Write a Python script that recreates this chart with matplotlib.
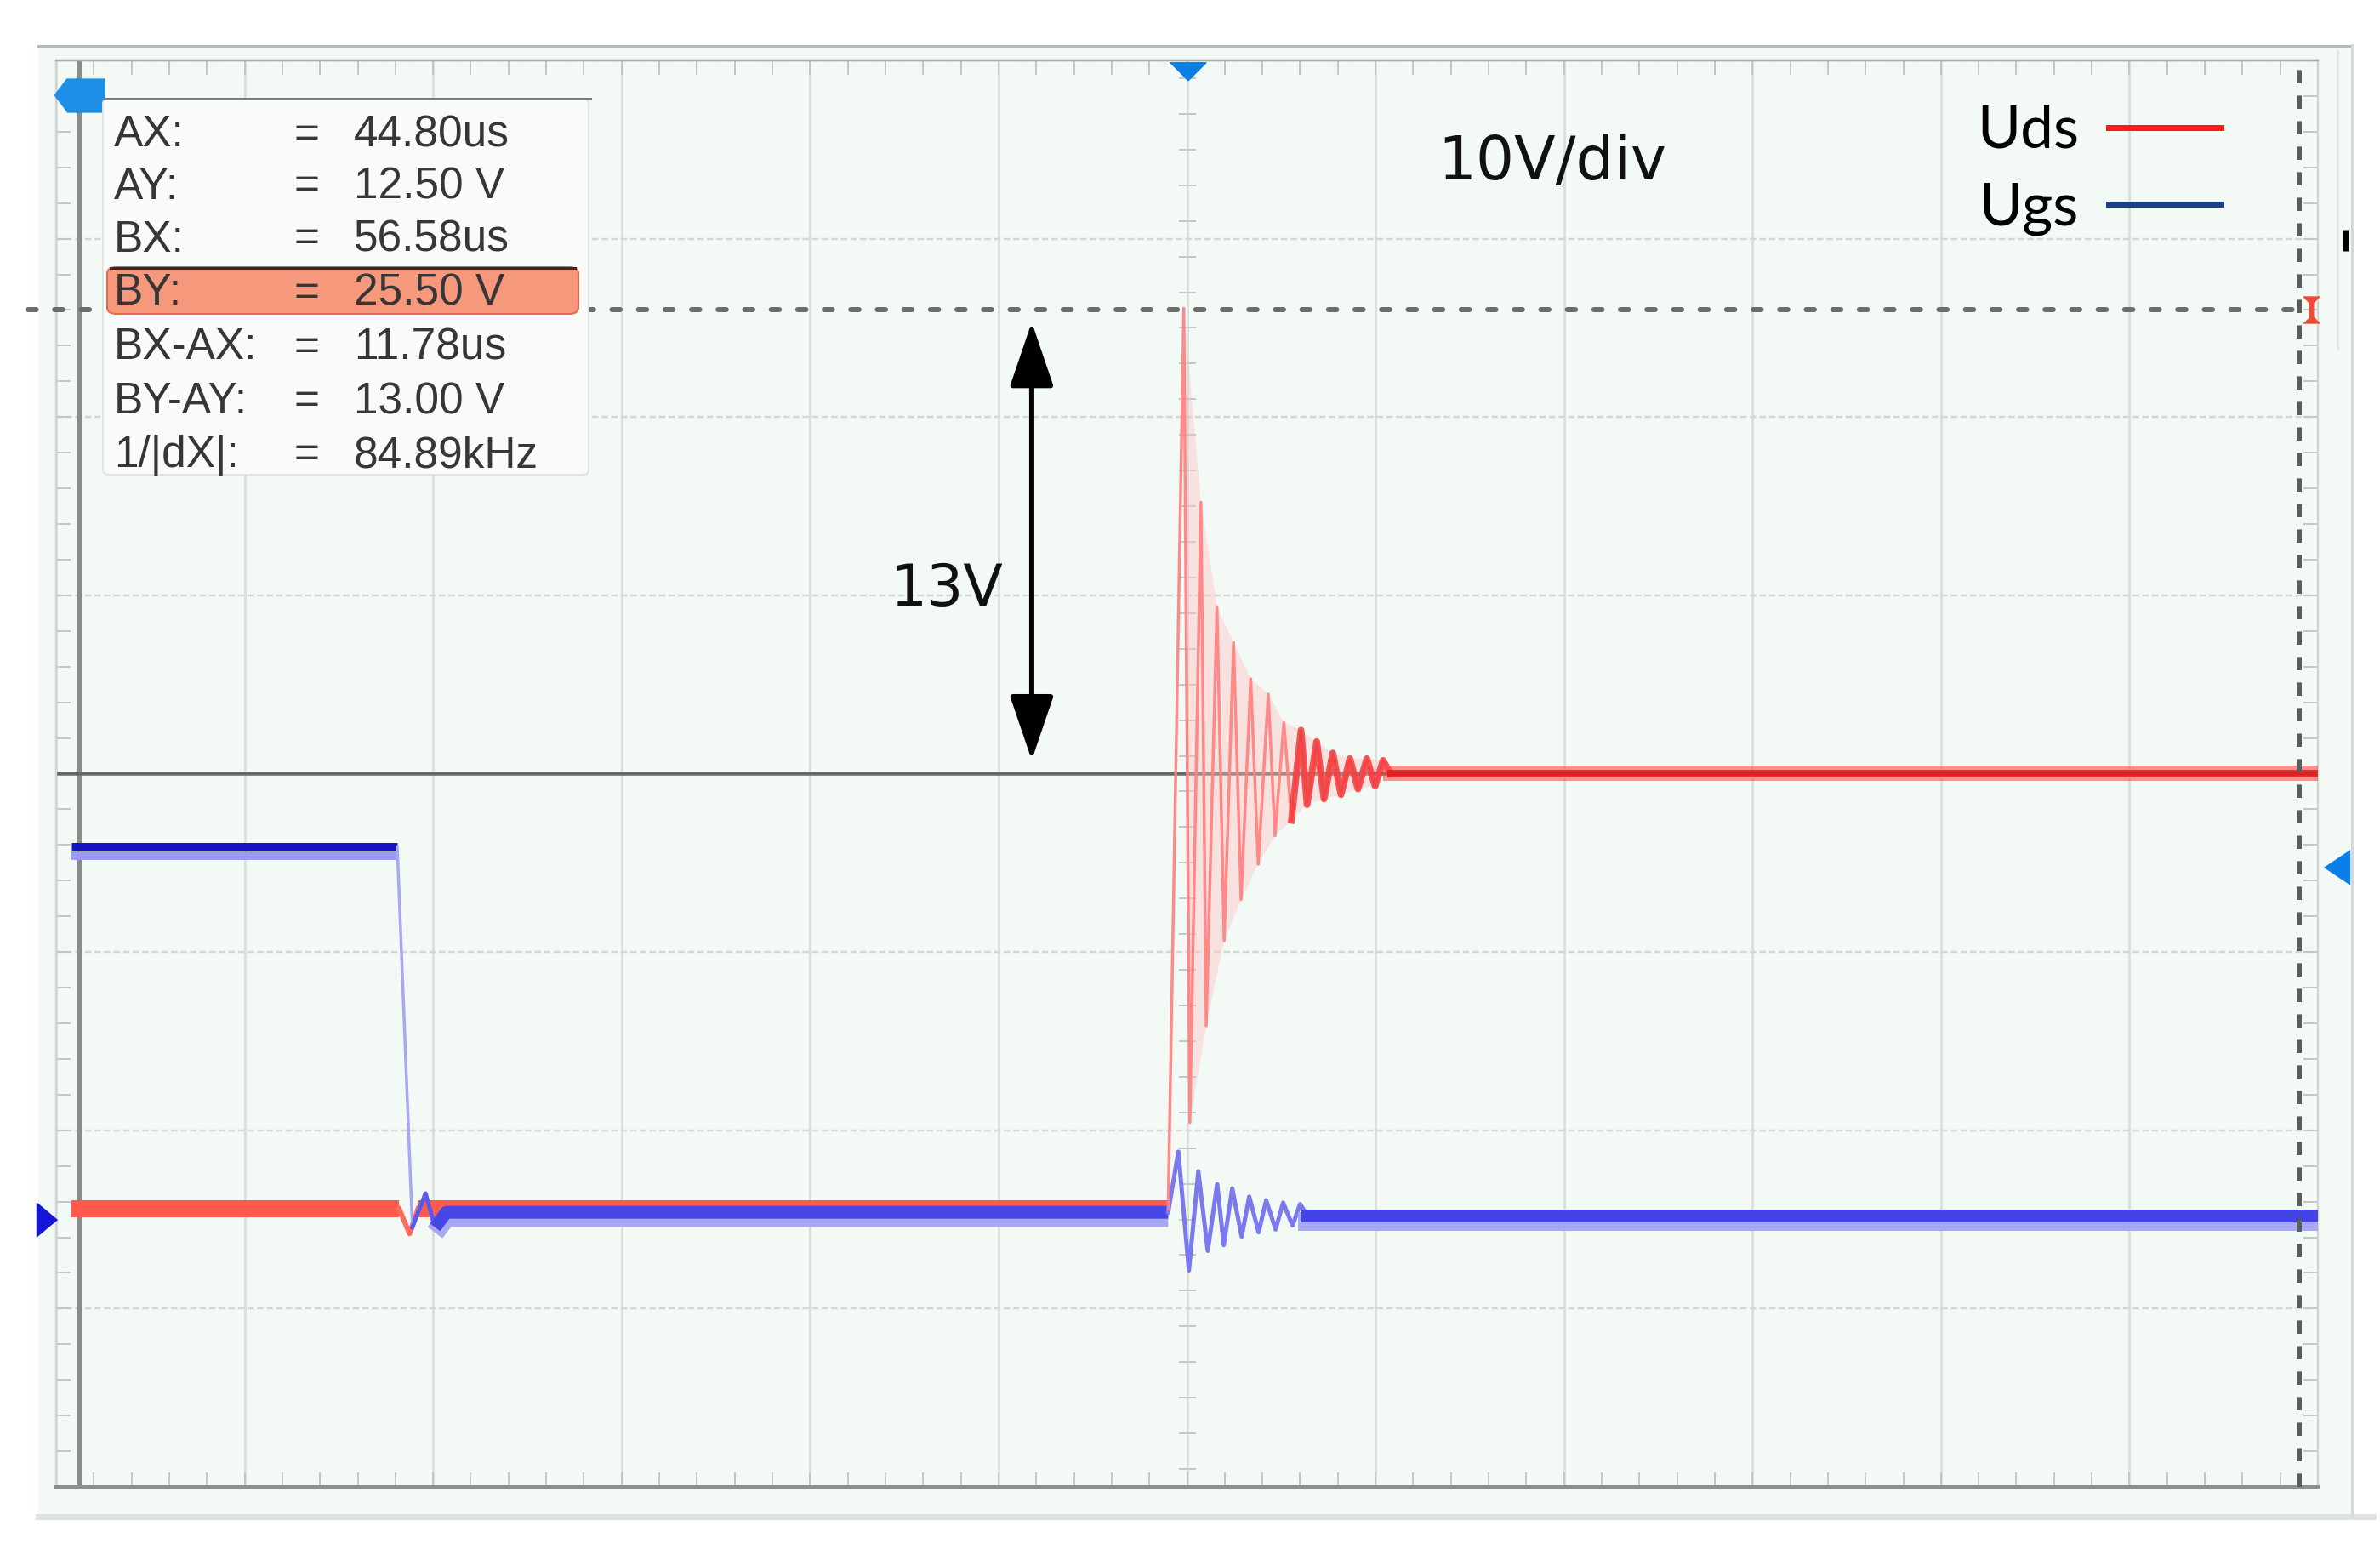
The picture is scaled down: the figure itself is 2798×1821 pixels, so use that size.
import numpy as np
import matplotlib
matplotlib.use("Agg")
import matplotlib.pyplot as plt
from matplotlib.lines import Line2D
from matplotlib.patches import Rectangle, FancyBboxPatch
from matplotlib.ticker import MultipleLocator

# cursor read-outs (us, V)
AX, AY, BX, BY = 44.80, 12.50, 56.58, 25.50
readout_labels = ["AX:", "AY:", "BX:", "BY:", "BX-AX:", "BY-AY:", "1/|dX|:"]
readout_values = ["44.80us", "12.50 V", "56.58us", "25.50 V", "11.78us", "13.00 V", "84.89kHz"]

# screen span: 12 div x 1 us, 8 div x 5 V
t_lo, t_hi = 44.68, 56.68
v_lo, v_hi = -7.5, 32.5
t_trig = 50.68
v_trig = 9.9

# Uds (red) - off state, then turn-off ringing, then plateau
uds_low_t = [44.76, 46.50, 46.555, 46.60, 50.58]
uds_low_v = [0.30, 0.30, -0.40, 0.30, 0.30]
uds_pk_t = [50.663, 50.754, 50.839, 50.927, 51.018, 51.111, 51.194, 51.285, 51.368, 51.453, 51.544, 51.634, 51.720]
uds_pk_v = [25.55, 20.11, 17.18, 16.17, 15.16, 14.73, 13.93, 13.72, 13.40, 13.08, 12.92, 12.92, 12.87]
uds_tr_t = [50.695, 50.782, 50.877, 50.967, 51.058, 51.147, 51.234, 51.317, 51.407, 51.497, 51.587, 51.678]
uds_tr_v = [2.72, 5.43, 7.81, 8.97, 9.96, 10.76, 11.19, 11.63, 11.79, 11.91, 12.07, 12.15]
uds_high_t = [51.76, 56.68]
uds_high_v = [12.50, 12.50]

# Ugs (blue)
ugs_on_t = [44.76, 46.49]
ugs_on_v = [10.45, 10.45]
ugs_off_t = [46.49, 46.57, 46.64, 46.69, 46.75, 50.58]
ugs_off_v = [10.45, -0.22, 0.73, -0.22, 0.20, 0.20]
ugs_pk_t = [50.634, 50.74, 50.84, 50.92, 51.01, 51.10, 51.19, 51.28]
ugs_pk_v = [1.90, 1.35, 0.99, 0.87, 0.64, 0.54, 0.47, 0.43]
ugs_tr_t = [50.69, 50.79, 50.875, 50.97, 51.06, 51.15, 51.24]
ugs_tr_v = [-1.43, -0.88, -0.72, -0.48, -0.36, -0.28, -0.17]
ugs_end_t = [51.32, 56.68]
ugs_end_v = [0.10, 0.10]

W, H = 2798, 1821
PX = 0.72  # points per pixel at dpi 100
BG = "#f3f9f5"


def fx(p):
    return p / W


def fy(p):
    return 1 - p / H


def zip_pk_tr(pt, pv, tt, tv):
    # alternate peak / trough
    t, v = [], []
    for i in range(len(pt)):
        t.append(pt[i]); v.append(pv[i])
        if i < len(tt):
            t.append(tt[i]); v.append(tv[i])
    return t, v


fig = plt.figure(figsize=(W / 100, H / 100), dpi=100)
fig.patch.set_facecolor("white")

# instrument panel
fig.patches.append(Rectangle((fx(45), fy(1782)), fx(2766 - 45), (1782 - 53) / H,
                             transform=fig.transFigure, facecolor=BG, edgecolor="none", zorder=-5))
fig.add_artist(Line2D([fx(45), fx(2766)], [fy(54), fy(54)], color="#b5b8b6", lw=3 * PX))
fig.add_artist(Line2D([fx(45), fx(2790)], [fy(1783), fy(1783)], color="#dfe2e0", lw=7 * PX))
fig.add_artist(Line2D([fx(2766), fx(2766)], [fy(54), fy(1783)], color="#d6d9d7", lw=4 * PX))
fig.add_artist(Line2D([fx(2748), fx(2748)], [fy(60), fy(410)], color="#e3e6e4", lw=3 * PX))

ax = fig.add_axes([fx(66), fy(1748), 2659 / W, 1677 / H])
ax.set_zorder(1)
ax.set_facecolor(BG)
ax.set_xlim(t_lo, t_hi)
ax.set_ylim(v_lo, v_hi)

ax.xaxis.set_major_locator(MultipleLocator(1.0, offset=0.68))
ax.xaxis.set_minor_locator(MultipleLocator(0.2, offset=0.08))
ax.yaxis.set_major_locator(MultipleLocator(5.0, offset=2.5))
ax.yaxis.set_minor_locator(MultipleLocator(1.0, offset=0.5))
ax.tick_params(which="both", direction="in", top=True, right=True,
               labelbottom=False, labelleft=False,
               length=17 * PX, width=2 * PX, color="#c4c8c5")
ax.xaxis.grid(True, which="major", color="#dce1de", lw=3 * PX)
ax.yaxis.grid(True, which="major", color="#d3d8d4", lw=2.5 * PX, dashes=(3, 1.5))
ax.set_axisbelow(True)
for side, c, w in [("top", "#a9aba9", 2.5), ("bottom", "#8e908e", 4),
                   ("left", "#d2d6d3", 2.5), ("right", "#d2d6d3", 2.5)]:
    ax.spines[side].set_color(c)
    ax.spines[side].set_linewidth(w * PX)

# centre crosshair ticks
vy = np.arange(v_lo + 0.5, v_hi, 1.0)
ax.plot(np.full_like(vy, t_trig), vy, ls="none", marker="_", ms=20 * PX,
        mew=2 * PX, color="#c4c8c5", zorder=1)

# cursors
ax.axvline(AX, color="#8a8c8a", lw=5 * PX, zorder=2)
ax.axhline(AY, color="#666866", lw=4.5 * PX, zorder=2)

# Uds low level
ax.plot(uds_low_t[:2], uds_low_v[:2], color="#ff5a4c", lw=20 * PX, solid_capstyle="butt", zorder=3)
ax.plot(uds_low_t[1:4], uds_low_v[1:4], color="#ff6a5c", lw=6 * PX, zorder=3)
ax.plot(uds_low_t[3:], uds_low_v[3:], color="#ff5a4c", lw=20 * PX, solid_capstyle="butt", zorder=3)

# Ugs
ax.plot(ugs_on_t, [v - 0.25 for v in ugs_on_v], color="#9a9af0", lw=10 * PX, solid_capstyle="butt", zorder=4)
ax.plot(ugs_on_t, ugs_on_v, color="#1414c8", lw=9 * PX, solid_capstyle="butt", zorder=4)
ax.plot(ugs_off_t[:2], ugs_off_v[:2], color="#a8a8f2", lw=3.5 * PX, zorder=4)
ax.plot(ugs_off_t[1:5], ugs_off_v[1:5], color="#5a5ae8", lw=5 * PX, zorder=4)
g_t, g_v = zip_pk_tr(ugs_pk_t, ugs_pk_v, ugs_tr_t, ugs_tr_v)
ax.plot(ugs_off_t[3:], [v - 0.15 for v in ugs_off_v[3:]], color="#a9a9f3", lw=22 * PX,
        solid_capstyle="butt", zorder=4)
ax.plot(ugs_off_t[3:], ugs_off_v[3:], color="#4646e6", lw=15 * PX, solid_capstyle="butt", zorder=4)
ax.plot([ugs_off_t[-1]] + g_t + ugs_end_t, [ugs_off_v[-1]] + g_v + ugs_end_v,
        color="#7a7aee", lw=5 * PX, zorder=4)
ax.plot(ugs_end_t, [v - 0.15 for v in ugs_end_v], color="#a9a9f3", lw=22 * PX, zorder=4)
ax.plot(ugs_end_t, ugs_end_v, color="#4444e6", lw=15 * PX, zorder=4)

# Uds ringing
r_t, r_v = zip_pk_tr(uds_pk_t, uds_pk_v, uds_tr_t, uds_tr_v)
ax.fill(np.r_[uds_pk_t, uds_tr_t[::-1]], np.r_[uds_pk_v, uds_tr_v[::-1]],
        color="#ffc0c0", alpha=0.4, lw=0, zorder=5)
ax.plot([uds_low_t[-1]] + r_t + uds_high_t[:1], [uds_low_v[-1]] + r_v + uds_high_v[:1],
        color="#ff7f7f", lw=3.5 * PX, alpha=0.9, zorder=5)
ax.plot(r_t[13:] + uds_high_t[:1], r_v[13:] + uds_high_v[:1],
        color="#f23a3a", lw=8 * PX, alpha=0.85, zorder=5)
ax.plot(uds_high_t, uds_high_v, color="#ff4a4a", lw=18 * PX, alpha=0.6, zorder=5)
ax.plot(uds_high_t, uds_high_v, color="#e01818", lw=9 * PX, alpha=0.8, zorder=5)

# B cursors
ax.axvline(BX, color="#5c5c5c", lw=6 * PX, dashes=(2.6, 2.4), zorder=6)
ax.axhline(BY, xmin=-0.0124, xmax=(BX - t_lo) / (t_hi - t_lo), color="#6c6c6c",
           lw=6 * PX, dashes=(1.6, 3.6), dash_capstyle="round", clip_on=False, zorder=6)

# channel / trigger markers
btr = ax.get_xaxis_transform()
ytr = ax.get_yaxis_transform()
ax.plot([t_trig], [0.9922], transform=btr, clip_on=False, ls="none", ms=43 * PX, color="#0a7fe8",
        marker=[(-1, 0.5), (1, 0.5), (0, -0.5)], zorder=8)
ax.plot([AX], [0.9755], transform=btr, clip_on=False, ls="none", ms=59 * PX, color="#1e8fe6",
        marker=[(-1, 0), (-0.5, 0.66), (1, 0.66), (1, -0.66), (-0.5, -0.66)], zorder=8)
ax.plot([1.0083], [v_trig], transform=ytr, clip_on=False, ls="none", ms=40 * PX, color="#0a7fe8",
        marker=[(-0.75, 0), (0.75, -1), (0.75, 1)], zorder=8)
ax.plot([-0.0041], [0.0], transform=ytr, clip_on=False, ls="none", ms=40 * PX, color="#1515d5",
        marker=[(0.6, 0), (-0.6, 1), (-0.6, -1)], zorder=8)
ax.plot([0.997], [BY], transform=ytr, clip_on=False, ls="none", ms=31 * PX, color="#f04a3a",
        marker=[(-0.6, -1), (0.6, -1), (0.15, -0.55), (0.15, 0.55), (0.6, 1), (-0.6, 1),
                (-0.15, 0.55), (-0.15, -0.55)], zorder=8)
ax.plot([1.012], [0.874], transform=ax.transAxes, clip_on=False, ls="none", marker="|",
        ms=25 * PX, mew=7 * PX, color="black", zorder=8)

# 13V arrow and labels
ax.annotate("", xy=(49.856, 25.16), xytext=(49.856, 12.88),
            arrowprops=dict(arrowstyle="<|-|>,head_length=4.7,head_width=1.6", color="black",
                            lw=6 * PX, shrinkA=0, shrinkB=0, mutation_scale=10), zorder=7)
ax.text(49.707, 17.66, "13V", ha="right", va="center", fontsize=49,
        family="DejaVu Sans", color="#111111", zorder=7)
ax.text(52.01, 29.62, "10V/div", ha="left", va="center", fontsize=51,
        family="DejaVu Sans", color="#111111", zorder=7)

handles = [Line2D([], [], color="#ff1a1a", lw=7 * PX), Line2D([], [], color="#1b3f8c", lw=7 * PX)]
ax.legend(handles, ["Uds", "Ugs"], loc="upper right", bbox_to_anchor=(0.957, 0.969),
          markerfirst=False, frameon=False, prop={"family": "Lato", "size": 50},
          handlelength=1.9, handletextpad=0.5, labelspacing=0.4, borderpad=0, borderaxespad=0)

# cursor read-out box
fig.patches.append(FancyBboxPatch((fx(121), fy(558)), fx(692 - 121), (558 - 116) / H,
                                  boxstyle="round,pad=0,rounding_size=0.003",
                                  transform=fig.transFigure, facecolor="#f8fbf9",
                                  edgecolor="#e1e5e2", lw=2 * PX, zorder=9))
fig.add_artist(Line2D([fx(120), fx(694)], [fy(116), fy(116)], color="#7b7d7b", lw=3 * PX, zorder=10))
fig.patches.append(FancyBboxPatch((fx(126), fy(369)), fx(680 - 126), (369 - 314) / H,
                                  boxstyle="round,pad=0,rounding_size=0.004",
                                  transform=fig.transFigure, facecolor="#f6987c",
                                  edgecolor="#e5684a", lw=2 * PX, zorder=10))
fig.add_artist(Line2D([fx(130), fx(676)], [fy(315), fy(315)], color="#4a2018", lw=3 * PX, zorder=11))
row_y = [159, 220, 282, 345, 409, 473, 536]
for lab, val, yy in zip(readout_labels, readout_values, row_y):
    kw = dict(va="center", fontsize=37, family="Liberation Sans", color="#363636", zorder=12)
    fig.text(fx(134), fy(yy), lab, ha="left", **kw)
    fig.text(fx(360), fy(yy), "=", ha="center", **kw)
    fig.text(fx(416), fy(yy), val, ha="left", **kw)

fig.savefig("out.png", dpi=100, facecolor="white")
